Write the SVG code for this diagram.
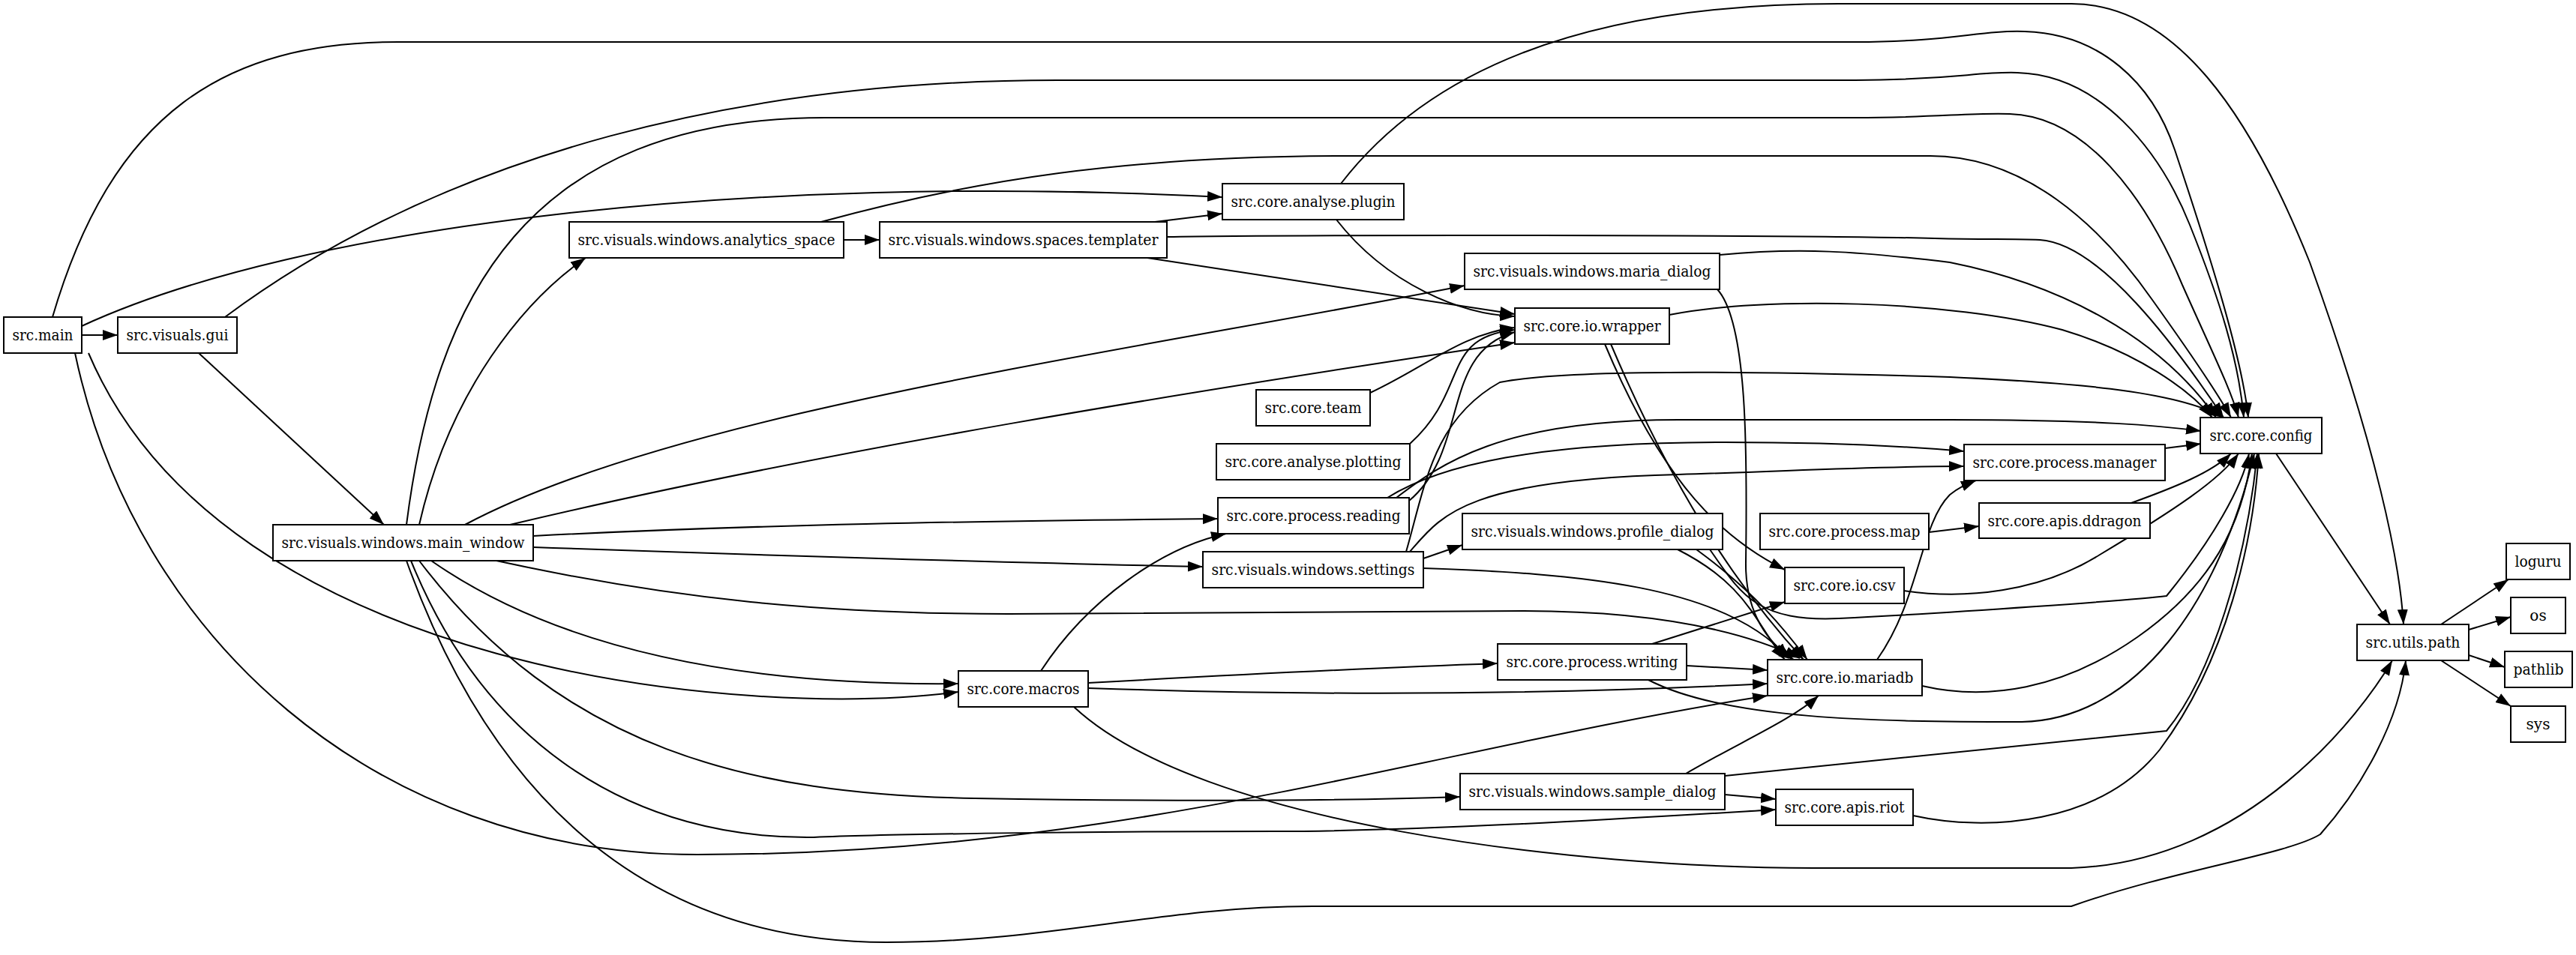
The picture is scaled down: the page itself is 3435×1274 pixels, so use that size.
<svg xmlns="http://www.w3.org/2000/svg" width="3435" height="1274" viewBox="0 0 3435 1274">
<style>
.n rect{fill:#fff;stroke:#000;stroke-width:2}
.n text{font-family:"DejaVu Serif","Liberation Serif",serif;font-size:20px;text-anchor:middle;dominant-baseline:central;fill:#000}
.e path{fill:none;stroke:#000;stroke-width:2;marker-end:url(#a)}
</style>
<defs><marker id="a" markerUnits="userSpaceOnUse" markerWidth="22" markerHeight="16" refX="20" refY="7" orient="auto"><path d="M0,0 L20,7 L0,14 z" fill="#000"/></marker></defs>
<rect width="3435" height="1274" fill="#fff"/>
<g class="e" id="edges">
<path d="M109,447 L157,447"/>
<path d="M70,423 C150,150 300,56 531,56 L2474,56 C2600,56 2640,40 2700,42 C2800,45 2870,110 2900,200 C2950,350 2990,480 2998,557"/>
<path d="M109,435 C400,300 1000,230 1630,263"/>
<path d="M118,471 C300,900 1000,960 1278,923"/>
<path d="M100,471 C180,850 500,1140 930,1140 C1500,1140 1900,1000 2357,928"/>
<path d="M300,423 C600,200 1000,107 1410,107 L2474,107 C2600,107 2640,95 2690,97 C2800,100 2880,200 2920,300 C2960,400 2985,480 2992,557"/>
<path d="M265,471 L512,700"/>
<path d="M559,700 C600,520 700,400 781,344"/>
<path d="M542,700 C580,400 700,157 1100,157 L2474,157 C2580,157 2630,150 2680,152 C2780,155 2860,260 2910,380 C2950,470 2975,520 2985,557"/>
<path d="M1095,296 C1300,240 1500,208 1800,208 L2574,208 C2700,208 2800,300 2870,400 C2920,470 2960,530 2975,557"/>
<path d="M1125,320 L1173,320"/>
<path d="M1540,296 L1630,285"/>
<path d="M1556,316 C1700,313 2400,313 2580,318 C2650,320 2680,318 2720,320 C2800,325 2900,460 2965,557"/>
<path d="M1530,344 L2020,419"/>
<path d="M1788,245 C1900,100 2100,5 2452,5 L2762,5 C2900,5 3000,150 3080,350 C3170,600 3200,750 3205,833"/>
<path d="M1782,293 C1850,380 1950,420 2020,422"/>
<path d="M620,700 C900,550 1500,470 1953,381"/>
<path d="M680,700 C1100,600 1600,520 2020,457"/>
<path d="M711,715 C1000,700 1300,695 1624,692"/>
<path d="M711,730 C1000,740 1300,750 1604,756"/>
<path d="M662,748 C900,800 1100,819 1345,819 L2030,815 C2200,815 2320,840 2400,878"/>
<path d="M575,748 C750,870 1000,915 1278,912"/>
<path d="M559,748 C750,1000 1000,1060 1300,1065 C1600,1070 1800,1068 1947,1063"/>
<path d="M548,748 C650,1000 850,1120 1085,1117 C1200,1112 1500,1109 1700,1109 C1900,1109 2200,1090 2368,1080"/>
<path d="M542,748 C650,1050 850,1257 1182,1257 C1400,1257 1550,1209 1750,1209 L2762,1209 C2900,1160 3050,1140 3094,1113 C3150,1050 3200,960 3208,881"/>
<path d="M1432,943 C1600,1100 2100,1158 2419,1158 L2762,1158 C3000,1150 3150,950 3190,881"/>
<path d="M1388,895 C1450,800 1550,730 1635,712"/>
<path d="M1451,911 C1650,900 1800,892 1997,885"/>
<path d="M1451,918 C1800,930 2100,925 2357,912"/>
<path d="M1879,668 C1960,600 1920,470 2020,443"/>
<path d="M1862,664 C1920,620 2000,560 2238,560 L2600,560 C2800,560 2880,568 2935,575"/>
<path d="M1850,664 C1920,620 2050,590 2300,590 C2450,590 2550,596 2619,602"/>
<path d="M1898,745 L1950,727"/>
<path d="M1880,736 C1920,690 1950,640 2238,633 C2400,628 2500,622 2619,622"/>
<path d="M1875,736 C1900,650 1910,560 2000,510 C2100,490 2400,497 2600,503 C2750,510 2900,520 2965,557"/>
<path d="M1898,758 C2100,765 2300,780 2385,878"/>
<path d="M2293,340 C2400,330 2474,335 2600,350 C2750,380 2880,450 2955,557"/>
<path d="M2290,386 C2330,430 2330,600 2328,750 C2327,820 2360,860 2392,880"/>
<path d="M2226,420 C2350,395 2600,400 2750,440 C2850,470 2920,520 2950,557"/>
<path d="M2140,459 C2220,650 2300,720 2380,760"/>
<path d="M2148,459 C2250,700 2350,820 2405,880"/>
<path d="M1827,524 C1900,490 1950,445 2020,437"/>
<path d="M1880,592 C1960,520 1920,450 2020,440"/>
<path d="M2237,733 C2330,780 2340,830 2380,880"/>
<path d="M2262,733 C2340,790 2380,840 2410,880"/>
<path d="M2280,733 C2320,790 2340,830 2452,825 C2600,818 2850,800 2889,795 C2950,720 2990,650 2999,605"/>
<path d="M2572,710 L2639,702"/>
<path d="M2842,671 C2900,650 2950,630 2975,605"/>
<path d="M2887,598 L2935,592"/>
<path d="M2503,880 C2560,800 2560,700 2600,660 C2615,648 2625,645 2635,641"/>
<path d="M2563,915 C2650,935 2750,920 2850,850 C2950,780 2990,700 3003,605"/>
<path d="M2539,788 C2620,800 2720,790 2800,740 C2900,680 2960,640 2985,605"/>
<path d="M2203,859 L2380,803"/>
<path d="M2249,888 L2357,894"/>
<path d="M2198,907 C2300,960 2500,963 2696,963 C2850,960 2960,800 3006,605"/>
<path d="M2248,1032 C2320,990 2390,960 2425,928"/>
<path d="M2300,1060 L2368,1066"/>
<path d="M2300,1035 L2889,975 C2950,900 2995,750 3010,605"/>
<path d="M2551,1088 C2650,1110 2800,1100 2880,1000 C2970,880 3005,720 3012,605"/>
<path d="M3035,605 L3187,833"/>
<path d="M3255,833 L3345,773"/>
<path d="M3292,840 L3348,823"/>
<path d="M3292,874 L3340,890"/>
<path d="M3255,881 L3348,942"/>
</g>
<g class="n" id="src_main"><rect x="5" y="423" width="104" height="48"/><text x="57" y="447" textLength="81" lengthAdjust="spacingAndGlyphs">src.main</text></g>
<g class="n" id="src_visuals_gui"><rect x="157" y="423" width="159" height="48"/><text x="236.5" y="447" textLength="136" lengthAdjust="spacingAndGlyphs">src.visuals.gui</text></g>
<g class="n" id="main_window"><rect x="364" y="700" width="347" height="48"/><text x="537.5" y="724" textLength="324" lengthAdjust="spacingAndGlyphs">src.visuals.windows.main_window</text></g>
<g class="n" id="analytics_space"><rect x="759" y="296" width="366" height="48"/><text x="942" y="320" textLength="343" lengthAdjust="spacingAndGlyphs">src.visuals.windows.analytics_space</text></g>
<g class="n" id="templater"><rect x="1173" y="296" width="383" height="48"/><text x="1364.5" y="320" textLength="360" lengthAdjust="spacingAndGlyphs">src.visuals.windows.spaces.templater</text></g>
<g class="n" id="plugin"><rect x="1630" y="245" width="242" height="48"/><text x="1751" y="269" textLength="219" lengthAdjust="spacingAndGlyphs">src.core.analyse.plugin</text></g>
<g class="n" id="maria_dialog"><rect x="1953" y="338" width="340" height="48"/><text x="2123" y="362" textLength="317" lengthAdjust="spacingAndGlyphs">src.visuals.windows.maria_dialog</text></g>
<g class="n" id="wrapper"><rect x="2020" y="411" width="206" height="48"/><text x="2123" y="435" textLength="183" lengthAdjust="spacingAndGlyphs">src.core.io.wrapper</text></g>
<g class="n" id="team"><rect x="1675" y="520" width="152" height="48"/><text x="1751" y="544" textLength="129" lengthAdjust="spacingAndGlyphs">src.core.team</text></g>
<g class="n" id="plotting"><rect x="1622" y="592" width="258" height="48"/><text x="1751" y="616" textLength="235" lengthAdjust="spacingAndGlyphs">src.core.analyse.plotting</text></g>
<g class="n" id="reading"><rect x="1624" y="664" width="255" height="48"/><text x="1751.5" y="688" textLength="232" lengthAdjust="spacingAndGlyphs">src.core.process.reading</text></g>
<g class="n" id="settings"><rect x="1604" y="736" width="294" height="48"/><text x="1751" y="760" textLength="271" lengthAdjust="spacingAndGlyphs">src.visuals.windows.settings</text></g>
<g class="n" id="profile_dialog"><rect x="1950" y="685" width="347" height="48"/><text x="2123.5" y="709" textLength="324" lengthAdjust="spacingAndGlyphs">src.visuals.windows.profile_dialog</text></g>
<g class="n" id="process_map"><rect x="2347" y="685" width="225" height="48"/><text x="2459.5" y="709" textLength="202" lengthAdjust="spacingAndGlyphs">src.core.process.map</text></g>
<g class="n" id="io_csv"><rect x="2380" y="757" width="159" height="48"/><text x="2459.5" y="781" textLength="136" lengthAdjust="spacingAndGlyphs">src.core.io.csv</text></g>
<g class="n" id="writing"><rect x="1997" y="859" width="252" height="48"/><text x="2123" y="883" textLength="229" lengthAdjust="spacingAndGlyphs">src.core.process.writing</text></g>
<g class="n" id="mariadb"><rect x="2357" y="880" width="206" height="48"/><text x="2460" y="904" textLength="183" lengthAdjust="spacingAndGlyphs">src.core.io.mariadb</text></g>
<g class="n" id="macros"><rect x="1278" y="895" width="173" height="48"/><text x="1364.5" y="919" textLength="150" lengthAdjust="spacingAndGlyphs">src.core.macros</text></g>
<g class="n" id="sample_dialog"><rect x="1947" y="1032" width="353" height="48"/><text x="2123.5" y="1056" textLength="330" lengthAdjust="spacingAndGlyphs">src.visuals.windows.sample_dialog</text></g>
<g class="n" id="riot"><rect x="2368" y="1053" width="183" height="48"/><text x="2459.5" y="1077" textLength="160" lengthAdjust="spacingAndGlyphs">src.core.apis.riot</text></g>
<g class="n" id="manager"><rect x="2619" y="593" width="268" height="48"/><text x="2753" y="617" textLength="245" lengthAdjust="spacingAndGlyphs">src.core.process.manager</text></g>
<g class="n" id="ddragon"><rect x="2639" y="671" width="228" height="47"/><text x="2753" y="694.5" textLength="205" lengthAdjust="spacingAndGlyphs">src.core.apis.ddragon</text></g>
<g class="n" id="config"><rect x="2934" y="557" width="162" height="48"/><text x="3015" y="581" textLength="137" lengthAdjust="spacingAndGlyphs">src.core.config</text></g>
<g class="n" id="utils_path"><rect x="3143" y="833" width="149" height="48"/><text x="3217.5" y="857" textLength="126" lengthAdjust="spacingAndGlyphs">src.utils.path</text></g>
<g class="n" id="loguru"><rect x="3342" y="725" width="85" height="48"/><text x="3384.5" y="749" textLength="62" lengthAdjust="spacingAndGlyphs">loguru</text></g>
<g class="n" id="os"><rect x="3348" y="797" width="73" height="48"/><text x="3384.5" y="821">os</text></g>
<g class="n" id="pathlib"><rect x="3340" y="869" width="90" height="48"/><text x="3385" y="893" textLength="67" lengthAdjust="spacingAndGlyphs">pathlib</text></g>
<g class="n" id="sys"><rect x="3348" y="942" width="73" height="48"/><text x="3384.5" y="966">sys</text></g>
</svg>
